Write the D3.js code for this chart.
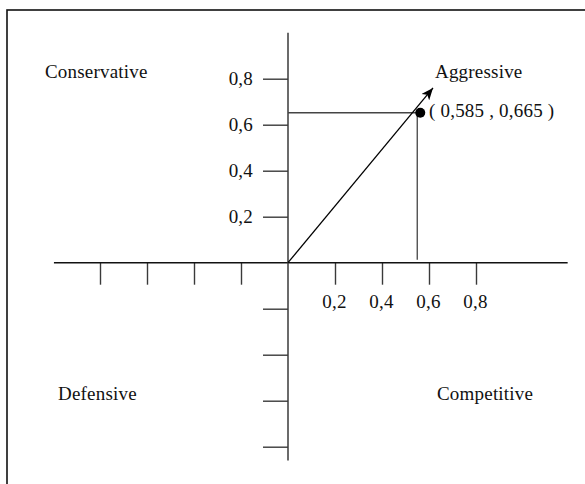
<!DOCTYPE html>
<html>
<head>
<meta charset="utf-8">
<script src="https://cdn.jsdelivr.net/npm/d3@7"></script>
<style>
  html, body { margin: 0; padding: 0; background: #fff; }
  svg { display: block; }
  text { font-family: "Liberation Serif", "Times New Roman", serif; font-size: 19px; letter-spacing: 0.2px; fill: #111; }
</style>
</head>
<body>
<svg id="chart" width="585" height="484"></svg>
<script>
// ---- data ----
const xTicksPos = [0.2, 0.4, 0.6, 0.8];
const xTicksNeg = [-0.2, -0.4, -0.6, -0.8];
const yTicksPos = [0.2, 0.4, 0.6, 0.8];
const yTicksNeg = [-0.2, -0.4, -0.6, -0.8];
const tickLabels = ["0,2", "0,4", "0,6", "0,8"];
const quadrants = ["Conservative", "Aggressive", "Defensive", "Competitive"];
const pointXY = [0.55, 0.652];          // plotted position as drawn
const pointLabel = "( 0,585 , 0,665 )";
const arrowTip = [0.617, 0.76];
const xAxisExtent = [-0.996, 1.19];
const yAxisExtent = [-0.86, 1.0];

// ---- layout ----
const svg = d3.select("#chart");
const x = d3.scaleLinear().domain([0, 0.8]).range([288, 476]);
const y = d3.scaleLinear().domain([0, 0.8]).range([262.7, 78.7]);
const fmt = d => tickLabels[xTicksPos.indexOf(d)] ?? "";
const fmtY = d => tickLabels[yTicksPos.indexOf(d)] ?? "";

// frame (clipped at right/bottom)
svg.append("rect").attr("x", 7).attr("y", 10).attr("width", 620).attr("height", 620)
  .attr("fill", "none").attr("stroke", "#111").attr("stroke-width", 1.6);

const axisColor = "#3a3a3a";

// x axis ticks
const gx = svg.append("g").attr("transform", `translate(0,${y(0)})`)
  .call(d3.axisBottom(x).tickValues(xTicksNeg.concat(xTicksPos)).tickSizeInner(22).tickSizeOuter(0).tickPadding(10).tickFormat(fmt));
gx.select(".domain").remove();
gx.attr("font-size", null).attr("font-family", null);
gx.selectAll(".tick line").attr("stroke", axisColor).attr("stroke-width", 1.4);
gx.selectAll(".tick text").attr("fill", "#111").attr("dx", "-1");

// y axis ticks
const gy = svg.append("g").attr("transform", `translate(${x(0)},0)`)
  .call(d3.axisLeft(y).tickValues(yTicksNeg.concat(yTicksPos)).tickSizeInner(25).tickSizeOuter(0).tickPadding(10).tickFormat(fmtY));
gy.select(".domain").remove();
gy.attr("font-size", null).attr("font-family", null);
gy.selectAll(".tick line").attr("stroke", axisColor).attr("stroke-width", 1.4);
gy.selectAll(".tick text").attr("fill", "#111");

// axis lines
svg.append("line").attr("x1", x(xAxisExtent[0])).attr("x2", x(xAxisExtent[1]))
  .attr("y1", y(0)).attr("y2", y(0)).attr("stroke", "#111").attr("stroke-width", 1.5);
svg.append("line").attr("x1", x(0)).attr("x2", x(0))
  .attr("y1", y(yAxisExtent[1])).attr("y2", y(yAxisExtent[0])).attr("stroke", axisColor).attr("stroke-width", 1.5);

// guide lines
svg.append("line").attr("x1", x(0)).attr("x2", x(pointXY[0]))
  .attr("y1", y(pointXY[1])).attr("y2", y(pointXY[1])).attr("stroke", "#444").attr("stroke-width", 1.3);
svg.append("line").attr("x1", x(pointXY[0])).attr("x2", x(pointXY[0]))
  .attr("y1", y(pointXY[1])).attr("y2", y(0) - 3).attr("stroke", "#444").attr("stroke-width", 1.3);

// arrow
const defs = svg.append("defs");
defs.append("marker").attr("id", "ah").attr("viewBox", "0 0 12 10").attr("refX", 12).attr("refY", 5)
  .attr("markerWidth", 13).attr("markerHeight", 10).attr("markerUnits", "userSpaceOnUse").attr("orient", "auto")
  .append("path").attr("d", "M0,0 L12,5 L0,10 L3,5 Z").attr("fill", "#000");
svg.append("line").attr("x1", x(0)).attr("y1", y(0)).attr("x2", x(arrowTip[0])).attr("y2", y(arrowTip[1]))
  .attr("stroke", "#000").attr("stroke-width", 1.3).attr("marker-end", "url(#ah)");

// point
svg.append("circle").attr("cx", x(pointXY[0]) + 3).attr("cy", y(pointXY[1])).attr("r", 5).attr("fill", "#000");
svg.append("text").attr("x", 429).attr("y", 117).text(pointLabel);

// quadrant labels
const qPos = [[45, 78], [435, 78], [58, 400], [437, 400]];
svg.selectAll("text.q").data(quadrants).enter().append("text").attr("class", "q")
  .attr("x", (d, i) => qPos[i][0]).attr("y", (d, i) => qPos[i][1]).text(d => d);
</script>
</body>
</html>
